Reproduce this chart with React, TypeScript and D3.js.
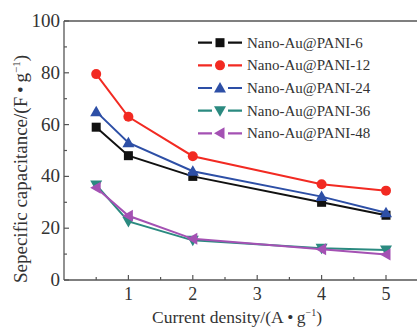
import React, { useEffect, useRef } from 'react';
import * as d3 from 'd3';

// current density (A/g)
const densities = [0.5, 1, 2, 4, 5];
const seriesNames = ['Nano-Au@PANI-6', 'Nano-Au@PANI-12', 'Nano-Au@PANI-24', 'Nano-Au@PANI-36', 'Nano-Au@PANI-48'];
const pani6 = [59, 48, 40, 30, 25];
const pani12 = [79.5, 63, 47.8, 37, 34.5];
const pani24 = [65, 53, 42, 32.2, 26];
const pani36 = [36.7, 22.6, 15.3, 12.3, 11.6];
const pani48 = [35.6, 24.8, 15.9, 11.9, 9.8];
const xTicks = [1, 2, 3, 4, 5];
const yTicks = [0, 20, 40, 60, 80, 100];

const colors = ['#111111', '#f22a22', '#2d4fa6', '#2b8a80', '#a451b3'];
const shapes = ['square', 'circle', 'triangle', 'triangleDown', 'triangleLeft'];
const FONT = '"Liberation Serif", "Times New Roman", serif';

const W = 417, H = 327;

function drawMarker(g: any, shape: string, x: number, y: number, color: string) {
  if (shape === 'square') {
    g.append('rect').attr('x', x - 4.5).attr('y', y - 4.5).attr('width', 9).attr('height', 9).attr('fill', color);
  } else if (shape === 'circle') {
    g.append('circle').attr('cx', x).attr('cy', y).attr('r', 5).attr('fill', color);
  } else {
    let pts: number[][] = [];
    const s = 6;
    if (shape === 'triangle') pts = [[x, y - s], [x - s, y + s * 0.75], [x + s, y + s * 0.75]];
    if (shape === 'triangleDown') pts = [[x, y + s], [x - s, y - s * 0.75], [x + s, y - s * 0.75]];
    if (shape === 'triangleLeft') pts = [[x - s, y], [x + s * 0.75, y - s], [x + s * 0.75, y + s]];
    g.append('polygon').attr('points', pts.map(p => p.join(',')).join(' ')).attr('fill', color);
  }
}

const Chart = () => {
  const ref = useRef<SVGSVGElement>(null);

  useEffect(() => {
    const svg = d3.select(ref.current);
    svg.selectAll('*').remove();

    const left = 64, top = 21, bottom = 280;
    const x = d3.scaleLinear().domain([0, 5.5]).range([left, left + 5.5 * 64.4]);
    const y = d3.scaleLinear().domain([0, 100]).range([bottom, top]);

    const axisColor = '#555';

    // frame: left, top, bottom
    svg.append('line').attr('x1', left).attr('x2', left).attr('y1', top).attr('y2', bottom).attr('stroke', axisColor).attr('stroke-width', 1.3);
    svg.append('line').attr('x1', left).attr('x2', W).attr('y1', top).attr('y2', top).attr('stroke', axisColor).attr('stroke-width', 1.3);
    svg.append('line').attr('x1', left).attr('x2', W).attr('y1', bottom).attr('y2', bottom).attr('stroke', axisColor).attr('stroke-width', 1.3);

    // x ticks (inward)
    const xMinor = d3.range(0.5, 5.5, 1);
    xTicks.forEach(t => {
      svg.append('line').attr('x1', x(t)).attr('x2', x(t)).attr('y1', bottom).attr('y2', bottom - 5).attr('stroke', axisColor).attr('stroke-width', 1.2);
      svg.append('text').text(t).attr('x', x(t)).attr('y', bottom + 20).attr('text-anchor', 'middle')
        .style('font-family', FONT).style('font-size', '18px').attr('fill', '#333');
    });
    xMinor.forEach(t => {
      svg.append('line').attr('x1', x(t)).attr('x2', x(t)).attr('y1', bottom).attr('y2', bottom - 3).attr('stroke', axisColor).attr('stroke-width', 1.2);
    });

    // y ticks (inward)
    const yMinor = d3.range(10, 100, 20);
    yTicks.forEach(t => {
      svg.append('line').attr('x1', left).attr('x2', left + 5).attr('y1', y(t)).attr('y2', y(t)).attr('stroke', axisColor).attr('stroke-width', 1.2);
      svg.append('text').text(t).attr('x', left - 4).attr('y', y(t) + 6).attr('text-anchor', 'end')
        .style('font-family', FONT).style('font-size', '19px').attr('fill', '#333');
    });
    yMinor.forEach(t => {
      svg.append('line').attr('x1', left).attr('x2', left + 3).attr('y1', y(t)).attr('y2', y(t)).attr('stroke', axisColor).attr('stroke-width', 1.2);
    });

    // axis titles
    const xt = svg.append('text').attr('x', 237).attr('y', 323).attr('text-anchor', 'middle')
      .style('font-family', FONT).style('font-size', '17.5px').attr('fill', '#333');
    xt.append('tspan').text('Current density/(A\u2009\u2022\u2009g');
    xt.append('tspan').text('\u22121').attr('dy', -7).style('font-size', '10px');
    xt.append('tspan').text(')').attr('dy', 7);

    const yt = svg.append('text').attr('transform', 'translate(27,169) rotate(-90)').attr('text-anchor', 'middle')
      .style('font-family', FONT).style('font-size', '19px').attr('fill', '#333');
    yt.append('tspan').text('Sepecific capacitance/(F\u2009\u2022\u2009g');
    yt.append('tspan').text('\u22121').attr('dy', -7).style('font-size', '11px');
    yt.append('tspan').text(')').attr('dy', 7);

    // series
    const allSeries = [pani6, pani12, pani24, pani36, pani48];
    const line = d3.line<number>().x((d, i) => x(densities[i])).y(d => y(d));
    allSeries.forEach((vals, si) => {
      const g = svg.append('g');
      g.append('path').attr('d', line(vals)).attr('fill', 'none').attr('stroke', colors[si]).attr('stroke-width', 2);
      vals.forEach((v, i) => drawMarker(g, shapes[si], x(densities[i]), y(v), colors[si]));
    });

    // legend
    const lg = svg.append('g');
    seriesNames.forEach((name, i) => {
      const ly = 42.7 + i * 22.65;
      lg.append('line').attr('x1', 198).attr('x2', 242).attr('y1', ly).attr('y2', ly).attr('stroke', colors[i]).attr('stroke-width', 2.2);
      lg.append('rect').attr('x', 212).attr('y', ly - 2).attr('width', 16).attr('height', 4).attr('fill', '#fff');
      drawMarker(lg, shapes[i], 220, ly, colors[i]);
      lg.append('text').text(name).attr('x', 247).attr('y', ly + 5)
        .style('font-family', FONT).style('font-size', '15px').attr('fill', '#333');
    });
  }, []);

  return <svg ref={ref} width={W} height={H} style={{ position: 'absolute', left: 0, top: 0, background: '#fff' }}></svg>;
};

export default function App() {
  return <Chart />;
}
